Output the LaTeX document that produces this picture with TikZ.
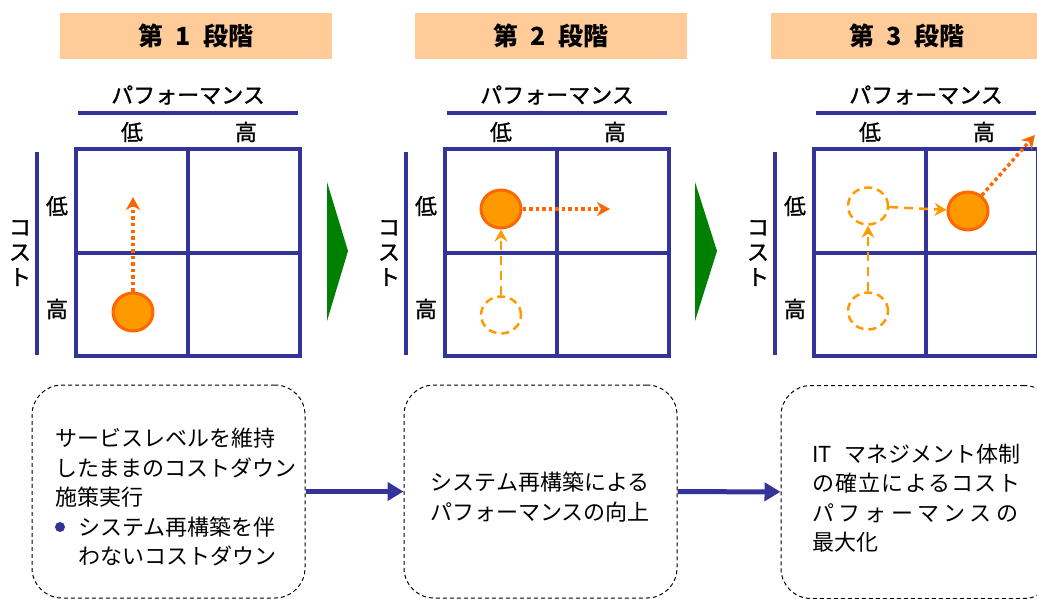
\documentclass[tikz,border=0pt]{standalone}
\usepackage{fontspec}
\setmainfont{Noto Sans CJK JP}
\newfontfamily\lblfont{Noto Sans CJK JP}[FakeBold=1.2]
\usetikzlibrary{arrows.meta,shapes.geometric}
\definecolor{navy}{HTML}{333399}
\definecolor{peach}{HTML}{FFCC99}
\definecolor{orgfill}{HTML}{FF9900}
\definecolor{orgline}{HTML}{FF6600}
\definecolor{grn}{HTML}{008000}
\begin{document}
\begin{tikzpicture}[x=1pt,y=-1pt,
  header/.style={fill=peach, minimum width=272pt, minimum height=46pt, inner sep=0pt,
    font=\fontsize{25}{25}\selectfont\bfseries},
  grid/.style={draw=navy, line width=4pt},
  axisline/.style={draw=navy, line width=4pt},
  lbl/.style={font=\lblfont\fontsize{22}{25}\selectfont, inner sep=0pt},
  dot/.style={ellipse, draw=orgline, fill=orgfill, line width=3pt,
    minimum width=40pt, minimum height=38pt, inner sep=0pt},
  ghost/.style={ellipse, draw=orgfill, dash pattern=on 8pt off 5pt, line width=2.5pt,
    minimum width=40pt, minimum height=37pt, inner sep=0pt},
  dotarrow/.style={draw=orgline, line width=3.5pt, dash pattern=on 3.5pt off 3pt,
    -{Stealth[length=13pt,width=14pt,inset=4pt]}},
  dasharrow/.style={draw=orgfill, line width=2.5pt, dash pattern=on 9pt off 6pt,
    -{Stealth[length=12pt,width=13pt,inset=4pt]}},
  note/.style={draw=black, line width=1pt, dash pattern=on 4pt off 3pt,
    rounded corners=30pt, minimum width=273pt, minimum height=213pt, inner sep=0pt},
  flow/.style={draw=navy, line width=5pt, -{Triangle[length=16pt,width=18pt]}},
  txt/.style={font=\fontsize{22}{29.5}\selectfont, inner sep=0pt},
  bulletdot/.style={circle, fill=navy, minimum size=10pt, inner sep=0pt}
]
\useasboundingbox (0,0) rectangle (1037,599);

% stage headers
\node[header] (h1) at (196,36) {第\hspace{0.5em}1\hspace{0.5em}段階};
\node[header] (h2) at (551,36) {第\hspace{0.5em}2\hspace{0.5em}段階};
\node[header] (h3) at (907,36) {第\hspace{0.5em}3\hspace{0.5em}段階};

% matrices
\foreach \s/\dx in {1/0,2/369,3/738}{
  \begin{scope}[xshift=\dx pt]
    \draw[axisline] (78,113) -- (298,113);
    \node[lbl] (perf\s) at (188,95) {パフォーマンス};
    \node[lbl] (plo\s) at (132,132) {低};
    \node[lbl] (phi\s) at (246,132) {高};
    \draw[axisline] (37,152) -- (37,355);
    \node[lbl, align=center] (cost\s) at (20,253) {コ\\ス\\ト};
    \node[lbl] (clo\s) at (57,206) {低};
    \node[lbl] (chi\s) at (57,309) {高};
    \draw[grid] (76,149) rectangle (300,356);
    \draw[grid] (188,149) -- (188,356) (76,253) -- (300,253);
  \end{scope}
}

% green stage arrows
\fill[grn] (327,182) -- (348,251) -- (327,321) -- cycle;
\fill[grn] (695,182) -- (717,251) -- (695,321) -- cycle;

% stage 1
\node[dot] (s1) at (133,312) {};
\coordinate (t1) at (133,197);
\draw[dotarrow] (s1) -- (t1);

% stage 2
\node[ghost] (g2) at (501,315) {};
\node[dot] (s2) at (501,209) {};
\coordinate (t2) at (610,209);
\draw[dotarrow] (s2) -- (t2);
\draw[dasharrow] (g2) -- (s2);

% stage 3
\node[ghost] (g3a) at (868,206) {};
\node[ghost] (g3b) at (868,311) {};
\node[dot] (s3) at (968,211) {};
\draw[dasharrow] (g3b) -- (g3a);
\draw[dasharrow] (g3a) -- (s3);
\coordinate (t3) at (1035,135);
\draw[dotarrow] (s3) -- (t3);

% description boxes
\node[note] (n1) at (168.5,491.5) {};
\node[note] (n2) at (540.5,491.5) {};
\node[note] (n3) at (917.5,492) {};
\draw[flow] (n1) -- (n2);
\draw[flow] (n2) -- (n3);

\node[txt, anchor=west, align=left] (x1) at (55,497) {サービスレベルを維持\\したままのコストダウン\\施策実行\\\hspace*{23pt}システム再構築を伴\\\hspace*{23pt}わないコストダウン};
\node[bulletdot] (bul) at (60,527) {};

\node[txt, align=center] (x2) at (540,497) {システム再構築による\\パフォーマンスの向上};

\node[txt, anchor=west, align=left] (x3) at (812,498) {\makebox[208pt][s]{IT\hfill マネジメント体制}\\\makebox[208pt][s]{の\hfill 確\hfill 立\hfill に\hfill よ\hfill る\hfill コ\hfill ス\hfill ト}\\\makebox[206pt][s]{パ\hfill フ\hfill ォ\hfill ー\hfill マ\hfill ン\hfill ス\hfill の}\\最大化};
\end{tikzpicture}
\end{document}
